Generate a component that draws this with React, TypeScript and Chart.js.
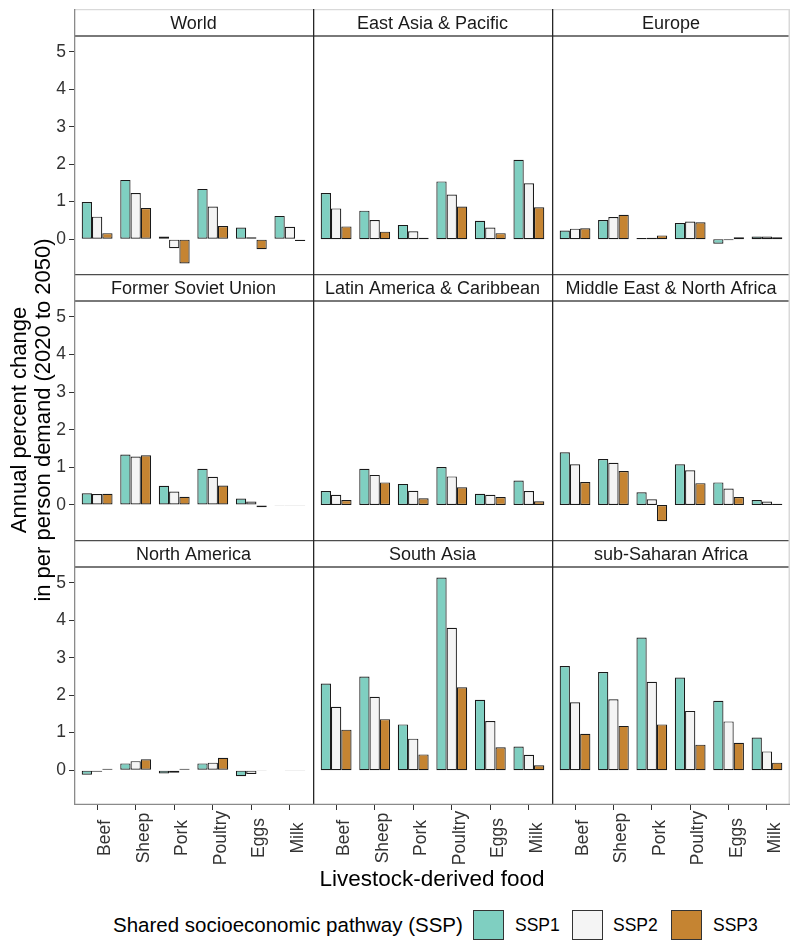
import React, { useEffect, useRef } from 'react';
import { Chart, registerables } from 'chart.js';

Chart.register(...registerables);

// ---------- data ----------
const FOODS = ['Beef', 'Sheep', 'Pork', 'Poultry', 'Eggs', 'Milk'];
const REGIONS = [
  'World',
  'East Asia & Pacific',
  'Europe',
  'Former Soviet Union',
  'Latin America & Caribbean',
  'Middle East & North Africa',
  'North America',
  'South Asia',
  'sub-Saharan Africa',
];
const SSP_NAMES = ['SSP1', 'SSP2', 'SSP3'];
const SSP_COLORS = ['#7fcfc1', '#f4f4f4', '#c58432'];

// rows follow REGIONS, columns follow FOODS
const SSP1 = [
  [0.99, 1.58, 0.07, 1.34, 0.31, 0.62],
  [1.23, 0.76, 0.38, 1.54, 0.49, 2.12],
  [0.23, 0.51, 0.03, 0.43, -0.12, 0.07],
  [0.31, 1.34, 0.51, 0.96, 0.17, -0.01],
  [0.37, 0.96, 0.56, 1.01, 0.3, 0.65],
  [1.4, 1.22, 0.34, 1.08, 0.6, 0.13],
  [-0.12, 0.18, -0.09, 0.18, -0.16, 0.0],
  [2.31, 2.5, 1.22, 5.14, 1.88, 0.63],
  [2.78, 2.62, 3.54, 2.47, 1.85, 0.87],
];
const SSP2 = [
  [0.6, 1.23, -0.24, 0.87, 0.05, 0.33],
  [0.82, 0.51, 0.21, 1.19, 0.31, 1.49],
  [0.28, 0.59, 0.04, 0.47, -0.03, 0.07],
  [0.29, 1.29, 0.36, 0.75, 0.09, -0.01],
  [0.27, 0.8, 0.38, 0.76, 0.27, 0.37],
  [1.08, 1.12, 0.15, 0.92, 0.44, 0.09],
  [-0.04, 0.24, -0.07, 0.2, -0.1, -0.01],
  [1.69, 1.96, 0.84, 3.8, 1.31, 0.41],
  [1.81, 1.89, 2.36, 1.58, 1.3, 0.5],
];
const SSP3 = [
  [0.16, 0.83, -0.65, 0.35, -0.27, -0.05],
  [0.34, 0.2, 0.04, 0.87, 0.16, 0.85],
  [0.29, 0.65, 0.1, 0.45, 0.05, 0.05],
  [0.3, 1.32, 0.22, 0.52, -0.06, -0.02],
  [0.13, 0.6, 0.18, 0.47, 0.21, 0.1],
  [0.61, 0.9, -0.43, 0.58, 0.21, 0.03],
  [0.04, 0.29, 0.04, 0.33, -0.02, -0.01],
  [1.08, 1.36, 0.42, 2.21, 0.61, 0.13],
  [0.97, 1.18, 1.22, 0.68, 0.73, 0.2],
];
const Y_TICKS = [0, 1, 2, 3, 4, 5];
const Y_MIN = -0.93;
const Y_MAX = 5.42;

// ---------- layout ----------
const FONT = '"Liberation Sans", Arial, Helvetica, sans-serif';
const COL_X = [74, 313, 552];
const COL_W = [239, 239, 238];
const ROW_Y = [9, 274, 540];
const PANEL_H = [238, 239, 238];
const STRIP_H = 27;
const Y_AXIS_W = 24;
const X_AXIS_H = 62;
const STRIP_FONT = 18;
const TICK_FONT = 17.5;

function Panel({ index }: { index: number }) {
  const ref = useRef<HTMLCanvasElement>(null);
  const row = Math.floor(index / 3);
  const col = index % 3;
  const leftAxis = col === 0;
  const bottomAxis = row === 2;
  const w = COL_W[col] + (leftAxis ? Y_AXIS_W : 0);
  const h = STRIP_H + PANEL_H[row] + (bottomAxis ? X_AXIS_H : 0);
  const left = COL_X[col] - (leftAxis ? Y_AXIS_W : 0);
  const top = ROW_Y[row];

  useEffect(() => {
    const series = [SSP1, SSP2, SSP3];
    const decor = {
      id: 'decor',
      afterDraw(chart: any) {
        const { ctx, chartArea: a } = chart;
        const sTop = a.top - STRIP_H;
        ctx.save();
        // strip label
        ctx.fillStyle = '#1a1a1a';
        ctx.font = `${STRIP_FONT}px ${FONT}`;
        ctx.textAlign = 'center';
        ctx.textBaseline = 'alphabetic';
        ctx.fillText(
          REGIONS[index],
          (a.left + a.right) / 2,
          sTop + STRIP_H / 2 + STRIP_FONT * 0.358
        );
        const line = (x0: number, y0: number, x1: number, y1: number, color: string, lw: number) => {
          ctx.beginPath();
          ctx.strokeStyle = color;
          ctx.lineWidth = lw;
          ctx.moveTo(x0, y0);
          ctx.lineTo(x1, y1);
          ctx.stroke();
        };
        // strip top / bottom
        line(a.left, sTop + 0.65, a.right, sTop + 0.65, row === 0 ? '#d9d9d9' : '#4d4d4d', 1.3);
        line(a.left, a.top, a.right, a.top, '#4d4d4d', 1.3);
        // left border
        line(a.left + 0.65, sTop, a.left + 0.65, a.bottom, col === 0 ? '#8a8a8a' : '#262626', 1.3);
        if (col === 2) line(a.right - 0.75, sTop, a.right - 0.75, a.bottom, '#d9d9d9', 1.5);
        if (bottomAxis) {
          line(a.left, a.bottom - 0.65, a.right, a.bottom - 0.65, '#8a8a8a', 1.3);
          const xs = chart.scales.x;
          ctx.font = `${TICK_FONT}px ${FONT}`;
          ctx.fillStyle = '#333333';
          xs.ticks.forEach((t: any, i: number) => {
            const px = xs.getPixelForValue(t.value);
            ctx.save();
            ctx.translate(px + 13, a.bottom + 33);
            ctx.rotate(-Math.PI / 2);
            ctx.textAlign = 'center';
            ctx.textBaseline = 'alphabetic';
            ctx.fillText(FOODS[i], 0, 0);
            ctx.restore();
          });
        }
        ctx.restore();
      },
    };

    const chart = new Chart(ref.current as HTMLCanvasElement, {
      type: 'bar',
      data: {
        datasets: series.map((s, k) => ({
          label: SSP_NAMES[k],
          data: s[index].map((v, i) => ({ x: i + 1, y: v })),
          backgroundColor: SSP_COLORS[k],
          borderColor: '#1a1a1a',
          borderWidth: 1.2,
          borderSkipped: false,
          categoryPercentage: 0.8,
          barPercentage: 1,
        })),
      },
      options: {
        responsive: false,
        animation: false,
        events: [],
        layout: { padding: { top: STRIP_H, left: 0, right: 0, bottom: 0 } },
        plugins: {
          legend: { display: false },
          tooltip: { enabled: false },
          title: { display: false },
        },
        scales: {
          x: {
            type: 'linear',
            min: 0.4,
            max: 6.6,
            offset: false,
            display: bottomAxis,
            grid: {
              display: true,
              offset: false,
              drawOnChartArea: false,
              drawTicks: true,
              tickLength: 5,
              tickColor: '#333333',
              color: '#333333',
            },
            border: { display: false },
            ticks: { display: false },
            afterBuildTicks: (s: any) => {
              s.ticks = FOODS.map((_, i) => ({ value: i + 1 }));
            },
            afterFit: (s: any) => {
              if (bottomAxis) s.height = X_AXIS_H;
              s.paddingLeft = 0;
              s.paddingRight = 0;
            },
          },
          y: {
            type: 'linear',
            min: Y_MIN,
            max: Y_MAX,
            display: leftAxis,
            grid: {
              display: true,
              drawOnChartArea: false,
              drawTicks: true,
              tickLength: 5,
              tickColor: '#333333',
              color: '#333333',
            },
            border: { display: false },
            ticks: {
              color: '#333333',
              padding: 3,
              font: { family: FONT, size: TICK_FONT },
            },
            afterBuildTicks: (s: any) => {
              s.ticks = Y_TICKS.map((v) => ({ value: v }));
            },
            afterFit: (s: any) => {
              if (leftAxis) s.width = Y_AXIS_W;
              s.paddingTop = 0;
              s.paddingBottom = 0;
            },
          },
        },
      } as any,
      plugins: [decor],
    });
    return () => chart.destroy();
  }, [index]);

  return (
    <canvas
      ref={ref}
      width={w}
      height={h}
      style={{ position: 'absolute', left, top, width: w, height: h, display: 'block' }}
    />
  );
}

export default function App() {
  const keyX = [473, 572, 671];
  const labelX = [515, 613, 713];
  return (
    <div
      style={{
        position: 'absolute',
        left: 0,
        top: 0,
        width: 800,
        height: 951,
        background: '#ffffff',
        overflow: 'hidden',
        fontFamily: FONT,
        color: '#000000',
      }}
    >
      {REGIONS.map((_, i) => (
        <Panel key={i} index={i} />
      ))}
      <div
        style={{
          position: 'absolute',
          left: 31 - 300,
          top: 420 - 24,
          width: 600,
          height: 48,
          transform: 'rotate(-90deg)',
          textAlign: 'center',
          fontSize: 22,
          lineHeight: '24px',
          whiteSpace: 'nowrap',
        }}
      >
        Annual percent change
        <br />
        in per person demand (2020 to 2050)
      </div>
      <div
        style={{
          position: 'absolute',
          left: 74,
          width: 716,
          top: 879 - 13,
          height: 26,
          lineHeight: '26px',
          fontSize: 22.5,
          textAlign: 'center',
          whiteSpace: 'nowrap',
        }}
      >
        Livestock-derived food
      </div>
      <div
        style={{
          position: 'absolute',
          left: 113,
          top: 925 - 13,
          height: 26,
          lineHeight: '26px',
          fontSize: 20.5,
          whiteSpace: 'nowrap',
        }}
      >
        Shared socioeconomic pathway (SSP)
      </div>
      {SSP_NAMES.map((name, k) => (
        <React.Fragment key={name}>
          <div
            style={{
              position: 'absolute',
              left: keyX[k],
              top: 910,
              width: 31,
              height: 30,
              boxSizing: 'border-box',
              border: '1px solid #333333',
              background: SSP_COLORS[k],
            }}
          />
          <div
            style={{
              position: 'absolute',
              left: labelX[k],
              top: 925 - 13,
              height: 26,
              lineHeight: '26px',
              fontSize: 17.5,
              whiteSpace: 'nowrap',
            }}
          >
            {name}
          </div>
        </React.Fragment>
      ))}
    </div>
  );
}
